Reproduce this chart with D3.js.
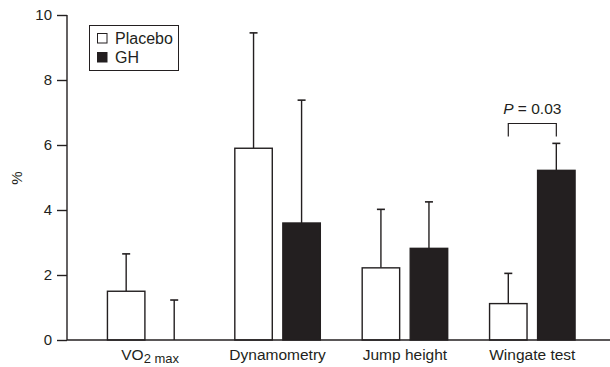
<!DOCTYPE html>
<html><head><meta charset="utf-8">
<script src="https://cdn.jsdelivr.net/npm/d3@7"></script>
<style>body{margin:0;background:#fff}text{font-family:"Liberation Sans",Arial,sans-serif;fill:#231f20}</style>
</head><body>
<svg id="c" width="610" height="367"></svg>
<script>
const categories = ["VO2max", "Dynamometry", "Jump height", "Wingate test"];
const series = ["Placebo", "GH"];
const placeboValues = [1.5, 5.9, 2.22, 1.12];
const placeboErrors = [2.65, 9.45, 4.02, 2.05];
const ghValues = [0, 3.6, 2.82, 5.22];
const ghErrors = [1.23, 7.38, 4.25, 6.05];
const yTicks = [0, 2, 4, 6, 8, 10];
const pLabel = "0.03";

const svg = d3.select("#c");
const dark = "#231f20";
const y = d3.scaleLinear().domain([0, 10]).range([340, 15]);
const x0 = d3.scaleBand().domain(categories).range([86.5, 596]).padding(0);
const x1 = d3.scaleBand().domain(series).range([0, 85.5]).paddingInner(0.22).paddingOuter(0);

const data = categories.map((c, i) => ({
  cat: c,
  vals: [
    {s: "Placebo", v: placeboValues[i], e: placeboErrors[i]},
    {s: "GH", v: ghValues[i], e: ghErrors[i]}
  ]
}));

const groups = svg.selectAll("g.grp").data(data).join("g")
  .attr("transform", d => `translate(${x0(d.cat) + x0.bandwidth()/2 - 42.75},0)`);

// error bars
groups.selectAll("g.err").data(d => d.vals).join("g").each(function(d) {
  const g = d3.select(this);
  const cx = x1(d.s) + x1.bandwidth()/2;
  g.append("line").attr("x1", cx).attr("x2", cx).attr("y1", y(d.v)).attr("y2", y(d.e))
    .attr("stroke", dark).attr("stroke-width", 1.4);
  g.append("line").attr("x1", cx - 4).attr("x2", cx + 4).attr("y1", y(d.e)).attr("y2", y(d.e))
    .attr("stroke", dark).attr("stroke-width", 1.6);
});

groups.selectAll("rect").data(d => d.vals.filter(v => v.v > 0)).join("rect")
  .attr("x", d => x1(d.s)).attr("width", x1.bandwidth())
  .attr("y", d => y(d.v)).attr("height", d => y(0) - y(d.v))
  .attr("fill", d => d.s === "GH" ? dark : "#fff")
  .attr("stroke", dark).attr("stroke-width", 1.4);

// axes
const yAxis = d3.axisLeft(y).tickValues(yTicks).tickSize(10).tickPadding(5);
const ya = svg.append("g").attr("transform", "translate(67,0)").call(yAxis);
ya.select(".domain").attr("stroke", dark).attr("stroke-width", 1.4).attr("d", "M0,15V340");
ya.selectAll(".tick line").attr("stroke", dark).attr("stroke-width", 1.4);
ya.selectAll(".tick text").attr("font-size", 15).attr("fill", dark)
  .attr("font-family", '"Liberation Sans",Arial,sans-serif');

svg.append("line").attr("x1", 67).attr("x2", 610).attr("y1", y(0)).attr("y2", y(0))
  .attr("stroke", dark).attr("stroke-width", 1.6);

// x labels
categories.forEach(c => {
  const cx = x0(c) + x0.bandwidth()/2;
  const t = svg.append("text").attr("x", cx).attr("y", 360).attr("text-anchor", "middle").attr("font-size", 15.5);
  if (c === "VO2max") {
    t.append("tspan").text("VO");
    t.append("tspan").attr("font-size", 13).attr("dy", 3).text("2 max");
  } else t.text(c);
});

// y label
svg.append("text").attr("transform", "translate(22,178) rotate(-90)").attr("text-anchor", "middle")
  .attr("font-size", 15).text("%");

// legend
const lg = svg.append("g");
lg.append("rect").attr("x", 89.5).attr("y", 25.5).attr("width", 89).attr("height", 45)
  .attr("fill", "#fff").attr("stroke", dark).attr("stroke-width", 1);
series.forEach((s, i) => {
  lg.append("rect").attr("x", 97.5).attr("y", 33.5 + i*19).attr("width", 9.5).attr("height", 9.5)
    .attr("fill", s === "GH" ? dark : "#fff").attr("stroke", dark).attr("stroke-width", 1);
  lg.append("text").attr("x", 115).attr("y", 43.5 + i*19).attr("font-size", 16).text(s);
});

// significance bracket
const wc = x0("Wingate test") + x0.bandwidth()/2 - 42.75;
const bx1 = wc + x1("Placebo") + x1.bandwidth()/2;
const bx2 = wc + x1("GH") + x1.bandwidth()/2;
const by = 123.5;
svg.append("path").attr("d", `M${bx1},${by+13}V${by}H${bx2}V${by+13}`)
  .attr("fill", "none").attr("stroke", dark).attr("stroke-width", 1.2);
const pt = svg.append("text").attr("x", (bx1+bx2)/2).attr("y", 114).attr("text-anchor", "middle").attr("font-size", 15.5);
pt.append("tspan").attr("font-style", "italic").text("P");
pt.append("tspan").text(" = " + pLabel);
</script>
</body></html>
